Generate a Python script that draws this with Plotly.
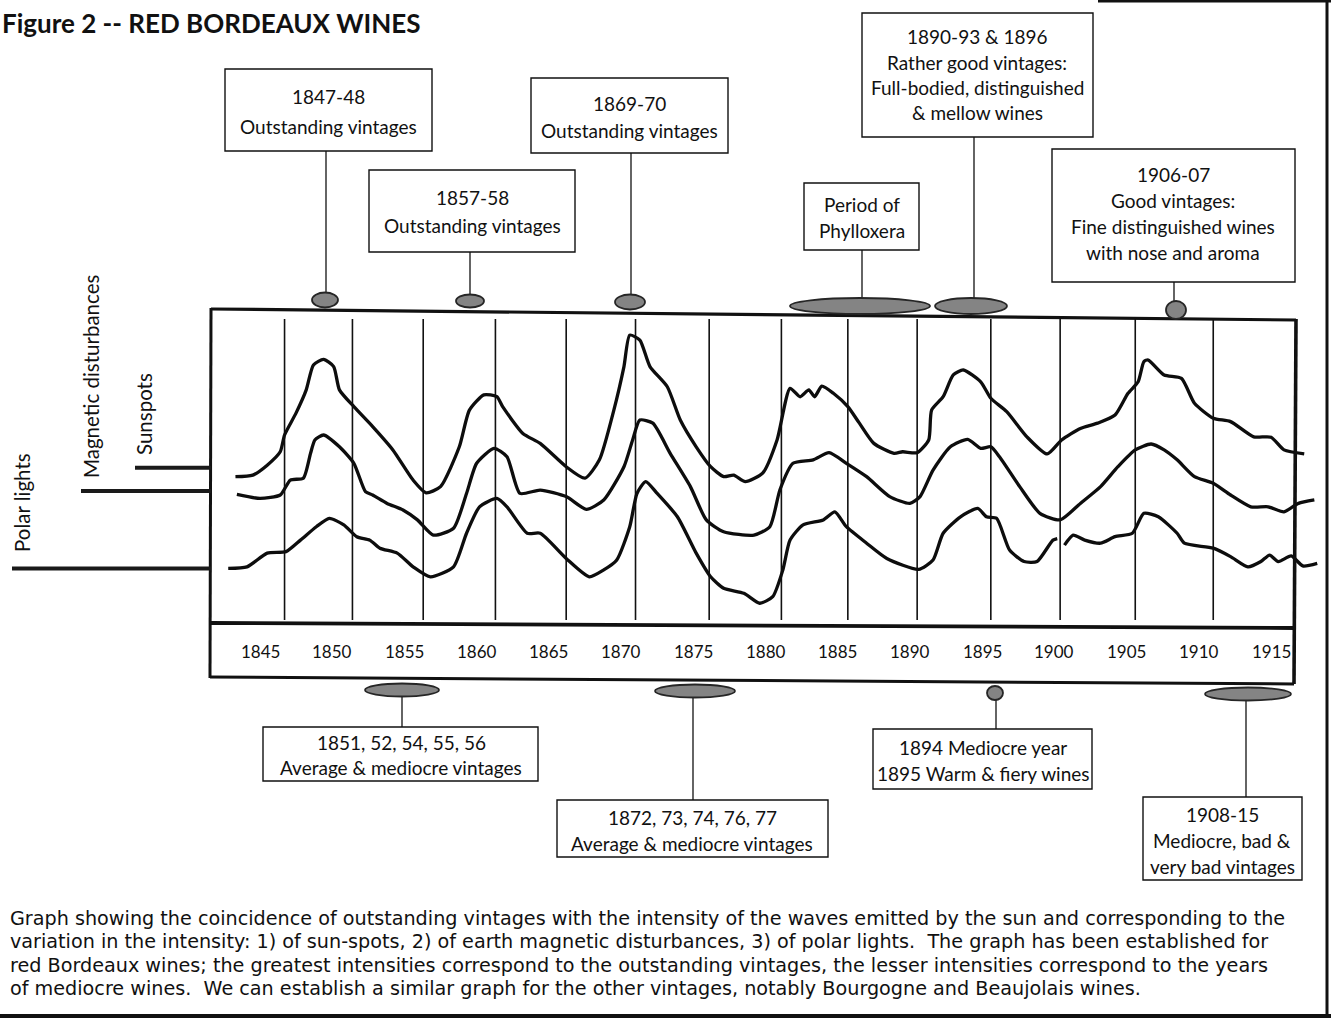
import plotly.graph_objects as go

# ---------------- DATA ----------------
tick_years = [1845, 1850, 1855, 1860, 1865, 1870, 1875, 1880, 1885, 1890, 1895, 1900, 1905, 1910, 1915]
tick_labels = [str(y) for y in tick_years]

gridline_years = [1846.7, 1851.4, 1856.3, 1861.3, 1866.2, 1871.0, 1876.1, 1881.1,
                  1885.7, 1890.5, 1895.6, 1900.4, 1905.6, 1911.0]

series_names = ["Sunspots", "Magnetic disturbances", "Polar lights"]
series_baselines = [50.6, 43.1, 18.2]

sun_years = [1843.3, 1844.5, 1845.5, 1846.4, 1846.7, 1847.5, 1848.2, 1848.7, 1849.4, 1850.1,
             1850.5, 1851.5, 1852.8, 1854.2, 1855.6, 1856.5, 1857.5, 1858.8, 1859.5, 1860.5,
             1861.4, 1861.8, 1863.2, 1864.4, 1866.2, 1867.5, 1868.5, 1869.5, 1870.2, 1870.6,
             1871.3, 1872.0, 1873.2, 1874.1, 1875.2, 1876.2, 1877.1, 1877.8, 1878.6, 1879.8,
             1880.8, 1881.7, 1882.4, 1883.0, 1883.4, 1883.9, 1884.7, 1885.7, 1886.5, 1887.5,
             1888.9, 1889.5, 1890.5, 1891.3, 1891.5, 1892.3, 1893.0, 1893.7, 1894.9, 1895.6,
             1896.7, 1898.1, 1899.5, 1900.5, 1901.8, 1903.0, 1904.2, 1905.1, 1905.8, 1906.2,
             1906.5, 1907.6, 1908.8, 1909.7, 1911.0, 1912.2, 1913.8, 1915.0, 1915.9, 1917.3]
sunspots = [47.7, 48.2, 51.4, 55.7, 61.1, 68.2, 75.6, 83.6, 85.4, 83.1,
            75.6, 70.2, 63.8, 56.3, 46.6, 42.5, 44.5, 57.3, 69.1, 74.0,
            73.4, 70.2, 61.6, 58.4, 50.9, 47.2, 53.1, 69.1, 83.1, 93.2,
            91.6, 83.1, 76.6, 65.9, 57.3, 50.9, 47.7, 48.2, 46.1, 48.8,
            59.5, 76.1, 73.4, 75.6, 73.4, 76.8, 74.5, 70.2, 64.9, 58.4,
            55.2, 55.7, 55.4, 59.5, 69.1, 73.4, 80.4, 82.0, 78.2, 72.9,
            68.6, 60.5, 55.0, 59.5, 63.2, 64.9, 67.5, 74.5, 78.2, 84.7,
            85.2, 80.4, 79.3, 71.3, 66.5, 65.4, 60.5, 60.4, 56.3, 55.0]

mag_years = [1843.4, 1845.0, 1846.4, 1847.1, 1848.0, 1848.5, 1848.8, 1849.4, 1850.5, 1851.5,
             1852.3, 1852.8, 1853.8, 1854.9, 1855.9, 1857.0, 1858.4, 1859.3, 1860.0, 1861.2,
             1862.1, 1863.0, 1864.4, 1866.2, 1867.6, 1868.8, 1870.2, 1870.8, 1871.3, 1872.2,
             1873.4, 1874.8, 1875.9, 1877.1, 1879.2, 1880.3, 1881.0, 1881.9, 1883.3, 1884.4,
             1885.6, 1887.0, 1888.6, 1890.0, 1890.7, 1891.6, 1892.8, 1894.0, 1894.9, 1895.6,
             1896.2, 1897.6, 1899.0, 1900.4, 1901.8, 1903.2, 1904.4, 1905.6, 1906.7, 1907.6,
             1908.5, 1909.7, 1911.0, 1912.2, 1913.6, 1914.8, 1915.9, 1916.9, 1918.0]
magnetic = [42.0, 40.7, 41.8, 46.6, 47.2, 55.2, 59.5, 61.1, 57.3, 52.0,
            42.9, 41.8, 39.1, 37.0, 33.8, 28.9, 31.1, 42.3, 52.0, 56.8,
            54.1, 42.3, 43.4, 41.3, 37.2, 40.2, 50.9, 59.5, 65.9, 64.9,
            55.2, 44.5, 33.8, 30.0, 28.9, 31.6, 43.5, 52.0, 53.1, 55.4,
            52.0, 47.7, 41.3, 39.1, 41.3, 49.8, 57.3, 59.7, 56.8, 57.3,
            54.1, 44.5, 35.9, 33.8, 39.1, 44.5, 50.9, 56.3, 58.2, 56.3,
            53.1, 47.7, 45.6, 41.8, 38.0, 38.0, 36.4, 39.1, 40.2]

pol_years = [1842.8, 1844.1, 1845.5, 1846.8, 1847.8, 1848.9, 1849.8, 1850.8, 1851.7, 1852.6,
             1853.3, 1854.5, 1855.6, 1856.8, 1858.4, 1859.3, 1860.2, 1861.4, 1862.1, 1863.5,
             1864.4, 1866.2, 1867.8, 1868.8, 1869.7, 1870.6, 1871.1, 1871.7, 1872.5, 1873.9,
             1875.2, 1876.2, 1877.1, 1878.5, 1879.6, 1880.5, 1881.2, 1881.7, 1882.6, 1884.0,
             1884.8, 1885.6, 1887.0, 1888.4, 1890.6, 1891.6, 1892.3, 1893.5, 1894.7, 1895.3,
             1896.0, 1896.9, 1897.9, 1898.8, 1899.9, 1900.2, 1900.4, 1900.7, 1901.3, 1902.1,
             1903.2, 1904.2, 1905.4, 1906.2, 1907.2, 1908.5, 1909.0, 1911.0, 1912.2, 1913.4,
             1914.3, 1914.9, 1915.5, 1916.4, 1917.2, 1918.2]
polar = [18.2, 18.7, 23.1, 23.6, 27.3, 31.6, 34.3, 32.2, 28.4, 27.3,
         24.7, 23.1, 18.7, 15.5, 18.7, 29.5, 38.0, 40.7, 38.0, 29.5,
         29.5, 21.4, 15.5, 17.7, 20.9, 31.6, 42.3, 46.1, 42.3, 34.8,
         23.1, 15.5, 11.8, 10.2, 7.0, 9.1, 17.7, 27.3, 32.2, 33.8,
         36.4, 31.6, 26.3, 21.4, 17.9, 20.9, 29.5, 34.8, 37.5, 34.8,
         34.3, 24.1, 20.4, 20.4, 27.3, 27.8, None, 25.7, 28.9, 27.3,
         26.3, 28.4, 29.5, 35.9, 34.8, 29.5, 26.3, 24.7, 22.0, 18.7,
         20.4, 22.5, 20.4, 22.2, 19.0, 19.8]

title_text = "Figure 2 -- RED BORDEAUX WINES"

top_note_texts = [
    ["1847-48", "Outstanding vintages"],
    ["1857-58", "Outstanding vintages"],
    ["1869-70", "Outstanding vintages"],
    ["Period of", "Phylloxera"],
    ["1890-93 & 1896", "Rather good vintages:", "Full-bodied, distinguished", "& mellow wines"],
    ["1906-07", "Good vintages:", "Fine distinguished wines", "with nose and aroma"],
]
bottom_note_texts = [
    ["1851, 52, 54, 55, 56", "Average & mediocre vintages"],
    ["1872, 73, 74, 76, 77", "Average & mediocre vintages"],
    ["1894 Mediocre year", "1895 Warm & fiery wines"],
    ["1908-15", "Mediocre, bad &", "very bad vintages"],
]

caption_lines = [
    "Graph showing the coincidence of outstanding vintages with the intensity of the waves emitted by the sun and corresponding to the",
    "variation in the intensity: 1) of sun-spots, 2) of earth magnetic disturbances, 3) of polar lights.  The graph has been established for",
    "red Bordeaux wines; the greatest intensities correspond to the outstanding vintages, the lesser intensities correspond to the years",
    "of mediocre wines.  We can establish a similar graph for the other vintages, notably Bourgogne and Beaujolais wines.",
]

assert len(sun_years) == len(sunspots)
assert len(mag_years) == len(magnetic)
assert len(pol_years) == len(polar)

# ---------------- LAYOUT HELPERS ----------------
W, H = 1331, 1036
PXY = 14.443          # pixels per year
X_ORIGIN = 1845 - 260 / PXY
PXU = 3.11            # pixels per intensity unit
Y_ZERO_PX = 625


def X(px):
    return X_ORIGIN + px / PXY


def Y(py):
    return (Y_ZERO_PX - py) / PXU


FONT = "Lato, 'Open Sans', sans-serif"
CAPTION_FONT = "'DejaVu Sans', 'Liberation Sans', sans-serif"
INK = "#111111"

fig = go.Figure()

for xs, ys, name in [(sun_years, sunspots, series_names[0]),
                     (mag_years, magnetic, series_names[1]),
                     (pol_years, polar, series_names[2])]:
    fig.add_trace(go.Scatter(x=xs, y=ys, mode="lines", name=name,
                             line=dict(color="#0d0d0d", width=3.3, shape="spline", smoothing=0.6),
                             connectgaps=False, hoverinfo="x+y+name"))

shapes = []


def seg(x0, y0, x1, y1, w=1.3, color=INK):
    shapes.append(dict(type="line", xref="x", yref="y", x0=X(x0), y0=Y(y0), x1=X(x1), y1=Y(y1),
                       line=dict(color=color, width=w), layer="above"))


def rect(x0, y0, x1, y1, w=1.4):
    shapes.append(dict(type="rect", xref="x", yref="y", x0=X(x0), y0=Y(y0), x1=X(x1), y1=Y(y1),
                       line=dict(color=INK, width=w), fillcolor="rgba(0,0,0,0)", layer="above"))


def ell(cx, cy, w, h):
    shapes.append(dict(type="circle", xref="x", yref="y", x0=X(cx - w / 2), x1=X(cx + w / 2),
                       y0=Y(cy - h / 2), y1=Y(cy + h / 2),
                       line=dict(color="#262626", width=1.8), fillcolor="#848484", layer="above"))


# main plot frame (slightly skewed like the scan)
seg(211, 309, 1296, 320, 3.2)
seg(211, 308, 210, 678, 3.0)
seg(1296, 319, 1294, 684, 3.6)
seg(211, 623, 1295, 628, 3.8)
seg(210, 677, 1294, 684, 3.0)

# outer page frame
seg(1327, 0, 1327, 1016, 3.0)
seg(1098, 1, 1331, 1, 3.0)
seg(0, 1016, 1331, 1016, 4.0)

# year grid lines
for g in gridline_years:
    shapes.append(dict(type="line", xref="x", yref="y", x0=g, x1=g, y0=Y(319), y1=Y(620),
                       line=dict(color=INK, width=1.6), layer="below"))

# series baseline bars on the left
bar_start_px = [135, 81, 12]
for b, sx in zip(series_baselines, bar_start_px):
    shapes.append(dict(type="line", xref="x", yref="y", x0=X(sx), x1=X(211), y0=b, y1=b,
                       line=dict(color="#1a1a1a", width=4)))

annotations = []


def text(px, py, s, size=17, bold=False, xanchor="center", angle=0, xshift=0, family=FONT):
    annotations.append(dict(xref="x", yref="y", x=X(px), y=Y(py), text=("<b>%s</b>" % s) if bold else s,
                            showarrow=False, xanchor=xanchor, yanchor="middle", textangle=angle,
                            xshift=xshift, font=dict(family=family, size=size, color=INK)))


# top notes geometry: box, text line ys, text centre x, connector x / y-range, ellipse
top_geom = [
    dict(box=(225, 69, 432, 151), ys=[96, 126], cx=328, conn=(326, 151, 293), el=(325, 300, 26, 15)),
    dict(box=(369, 170, 575, 252), ys=[197, 225], cx=472, conn=(470, 252, 295), el=(470, 301, 28, 13)),
    dict(box=(531, 78, 728, 153), ys=[103, 130], cx=629, conn=(631, 153, 295), el=(630, 302, 30, 15)),
    dict(box=(804, 183, 919, 250), ys=[204, 230], cx=862, conn=(862, 250, 298), el=(860, 306, 140, 16)),
    dict(box=(862, 13, 1093, 137), ys=[36, 62, 87, 112], cx=977, conn=(974, 137, 298), el=(971, 306, 72, 16)),
    dict(box=(1052, 149, 1295, 282), ys=[174, 200, 226, 252], cx=1173, conn=(1174, 282, 301), el=(1176, 310, 20, 18)),
]
bottom_geom = [
    dict(box=(263, 727, 538, 781), ys=[742, 767], cx=401, conn=(402, 696, 727), el=(402, 690, 74, 13)),
    dict(box=(557, 800, 828, 857), ys=[817, 843], cx=692, conn=(693, 697, 800), el=(695, 691, 80, 13)),
    dict(box=(873, 729, 1092, 789), ys=[747, 773], cx=983, conn=(996, 700, 729), el=(995, 693, 16, 14)),
    dict(box=(1143, 797, 1302, 880), ys=[814, 840, 866], cx=1222, conn=(1246, 700, 797), el=(1248, 694, 86, 13)),
]

for geom, lines in list(zip(top_geom, top_note_texts)) + list(zip(bottom_geom, bottom_note_texts)):
    rect(*geom["box"])
    cxp, c0, c1 = geom["conn"]
    seg(cxp, c0, cxp, c1, 1.3)
    ell(*geom["el"])
    for yy, s in zip(geom["ys"], lines):
        text(geom["cx"], yy, s, size=19)

# tick labels in the band under the plot
for ty, tl in zip(tick_years, tick_labels):
    annotations.append(dict(xref="x", yref="y", x=ty, y=Y(651), text=tl, showarrow=False,
                            xanchor="center", yanchor="middle",
                            font=dict(family=FONT, size=17, color=INK)))

# rotated series labels
text(22, 503, series_names[2], size=20.5, angle=-90)
text(91, 377, series_names[1], size=20.5, angle=-90)
text(144, 414, series_names[0], size=20.5, angle=-90)

# title
text(0, 23, title_text, size=26, bold=True, xanchor="left", xshift=0)

# caption
for i, line in enumerate(caption_lines):
    text(8, 918 + i * 23.5, line, size=19.2, xanchor="left", family=CAPTION_FONT)

fig.update_layout(
    width=W, height=H, margin=dict(l=0, r=0, t=0, b=0),
    paper_bgcolor="white", plot_bgcolor="white", showlegend=False,
    xaxis=dict(range=[X(0), X(W)], visible=False, fixedrange=True),
    yaxis=dict(range=[Y(H), Y(0)], visible=False, fixedrange=True),
    shapes=shapes, annotations=annotations,
)

fig.write_html("out.html", config={"displayModeBar": False},
               post_script="document.body.style.margin='0px';document.body.style.overflow='hidden';")
